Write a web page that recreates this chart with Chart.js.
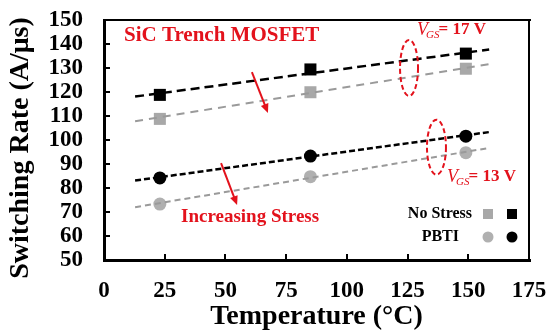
<!DOCTYPE html>
<html lang="en">
<head>
    <meta charset="UTF-8">
    <title>Switching Rate vs Temperature</title>
    <script src="https://cdn.jsdelivr.net/npm/chart.js"></script>
    <style>
        html, body { margin: 0; padding: 0; background: #fff; }
        #chartContainer { width: 547px; height: 333px; position: relative; }
    </style>
</head>
<body>

<div id="chartContainer">
    <canvas id="rateChart"></canvas>
</div>

<script>
    // Measured points (temperature in °C, switching rate in A/µs)
    const temps = [23, 85, 149];
    const rate17NoStress = [108.8, 119.9, 129.7];   // gray squares
    const rate17Pbti = [118.8, 129.4, 136.0];       // black squares
    const rate13NoStress = [73.3, 84.7, 94.7];      // gray circles
    const rate13Pbti = [84.2, 93.3, 101.6];         // black circles

    // Trend line end points
    const trendTemps = [12.8, 158.6];
    const trend17NoStress = [107.8, 131.6];
    const trend17Pbti = [118.1, 137.7];
    const trend13NoStress = [72.0, 96.7];
    const trend13Pbti = [83.1, 103.3];

    const xTicks = [0, 25, 50, 75, 100, 125, 150, 175];
    const yTicks = [50, 60, 70, 80, 90, 100, 110, 120, 130, 140, 150];

    const RED = '#e3121c';
    const GRAY = '#a8a8a8';
    const SERIF = '"Liberation Serif", "DejaVu Serif", serif';

    const toPoints = (xs, ys) => xs.map((x, i) => ({ x: x, y: ys[i] }));

    function trend(values, color, dash, width) {
        return {
            data: toPoints(trendTemps, values),
            showLine: true,
            borderColor: color,
            borderWidth: width,
            borderDash: dash,
            pointRadius: 0,
            fill: false
        };
    }

    function marks(values, color, style, radius) {
        return {
            data: toPoints(temps, values),
            showLine: false,
            pointStyle: style,
            pointRadius: radius,
            pointHoverRadius: radius,
            backgroundColor: color,
            borderColor: color,
            borderWidth: 0
        };
    }

    // keep the plot box fixed: no extra room for edge labels
    function noEdgePadding(s) {
        s.paddingLeft = 0;
        s.paddingRight = 0;
        s.paddingTop = 0;
        s.paddingBottom = 0;
    }

    // Plot frame with inward ticks
    const frame = {
        id: 'frame',
        afterDraw(chart) {
            const c = chart.ctx;
            const a = chart.chartArea;
            const xs = chart.scales.x, ys = chart.scales.y;
            const L = Math.round(a.left), R = Math.round(a.right);
            const T = Math.round(a.top), B = Math.round(a.bottom);
            c.save();
            c.globalAlpha = 1;
            c.globalCompositeOperation = 'source-over';
            c.fillStyle = 'rgb(0,0,0)';
            c.fillRect(L - 1, T - 1, 3, B - T + 3);       // left
            c.fillRect(L - 1, B - 1, R - L + 3, 3);       // bottom
            c.fillRect(L - 1, T - 1, R - L + 3, 2);       // top
            c.fillRect(R - 1, T - 1, 2, B - T + 3);       // right
            yTicks.slice(1, -1).forEach(v => {
                c.fillRect(L, Math.round(ys.getPixelForValue(v)) - 1, 6, 2);
            });
            xTicks.slice(1, -1).forEach(v => {
                c.fillRect(Math.round(xs.getPixelForValue(v)) - 1, B - 6, 2, 6);
            });
            c.restore();
        }
    };

    // Annotations and legend
    const decorations = {
        id: 'decorations',
        afterDraw(chart) {
            const ctx = chart.ctx;
            const xs = chart.scales.x, ys = chart.scales.y;
            const px = v => xs.getPixelForValue(v);
            const py = v => ys.getPixelForValue(v);

            ctx.save();

            // y axis title
            ctx.fillStyle = '#000';
            ctx.font = 'bold 28px ' + SERIF;
            ctx.textAlign = 'center';
            ctx.textBaseline = 'middle';
            ctx.save();
            ctx.translate(21, 148);
            ctx.rotate(-Math.PI / 2);
            ctx.fillText('Switching Rate (A/\u03bcs)', 0, 0);
            ctx.restore();

            // red labels
            ctx.fillStyle = RED;
            ctx.textAlign = 'left';
            ctx.font = 'bold 21px ' + SERIF;
            ctx.fillText('SiC Trench MOSFET', 124, 36);
            ctx.font = 'bold 19px ' + SERIF;
            ctx.fillText('Increasing Stress', 181, 217);

            function vgs(x, y, value) {
                ctx.font = 'italic 18px ' + SERIF;
                ctx.fillText('V', x, y);
                const w = ctx.measureText('V').width;
                ctx.font = 'italic 11px ' + SERIF;
                ctx.fillText('GS', x + w - 2, y + 5);
                const w2 = ctx.measureText('GS').width;
                ctx.font = 'bold 17px ' + SERIF;
                ctx.fillText('= ' + value + ' V', x + w + w2 - 3, y);
            }
            vgs(417, 30, 17);
            vgs(447, 177, 13);

            // dashed ellipses around the gate-voltage groups
            ctx.strokeStyle = RED;
            ctx.lineWidth = 2;
            ctx.setLineDash([5, 3]);
            ctx.beginPath();
            ctx.ellipse(px(125.6), py(130), 9, 28, 0, 0, Math.PI * 2);
            ctx.stroke();
            ctx.beginPath();
            ctx.ellipse(px(136.9), py(97), 9.5, 27.5, 0, 0, Math.PI * 2);
            ctx.stroke();
            ctx.setLineDash([]);

            // arrows
            function arrow(x1, y1, x2, y2) {
                const ax = px(x1), ay = py(y1), bx = px(x2), by = py(y2);
                const t = Math.atan2(by - ay, bx - ax);
                ctx.strokeStyle = RED;
                ctx.fillStyle = RED;
                ctx.lineWidth = 2;
                ctx.beginPath();
                ctx.moveTo(ax, ay);
                ctx.lineTo(bx - 5 * Math.cos(t), by - 5 * Math.sin(t));
                ctx.stroke();
                ctx.beginPath();
                ctx.moveTo(bx, by);
                ctx.lineTo(bx - 9 * Math.cos(t) + 4 * Math.sin(t), by - 9 * Math.sin(t) - 4 * Math.cos(t));
                ctx.lineTo(bx - 9 * Math.cos(t) - 4 * Math.sin(t), by - 9 * Math.sin(t) + 4 * Math.cos(t));
                ctx.closePath();
                ctx.fill();
            }
            arrow(60.9, 128.3, 67.5, 111.3);
            arrow(48.2, 90.4, 54.8, 72.9);

            // legend
            ctx.fillStyle = '#000';
            ctx.font = 'bold 16px ' + SERIF;
            ctx.textAlign = 'right';
            ctx.fillText('No Stress', 472, 214);
            ctx.fillText('PBTI', 459, 237);
            ctx.fillStyle = GRAY;
            ctx.fillRect(483, 209, 10, 10);
            ctx.fillStyle = '#000';
            ctx.fillRect(507, 209, 10, 10);
            ctx.fillStyle = '#b0b0b0';
            ctx.beginPath();
            ctx.arc(488, 237, 5.5, 0, Math.PI * 2);
            ctx.fill();
            ctx.fillStyle = '#000';
            ctx.beginPath();
            ctx.arc(512, 237, 5.5, 0, Math.PI * 2);
            ctx.fill();

            ctx.restore();
        }
    };

    new Chart(document.getElementById('rateChart'), {
        type: 'scatter',
        data: {
            datasets: [
                trend(trend17NoStress, '#9a9a9a', [8, 6], 2),
                trend(trend17Pbti, '#000', [9, 5], 2.5),
                trend(trend13NoStress, '#9a9a9a', [6, 4], 2),
                trend(trend13Pbti, '#000', [6, 3], 2.5),
                marks(rate17NoStress, GRAY, 'rect', 8.5),
                marks(rate17Pbti, '#000', 'rect', 8.5),
                marks(rate13NoStress, '#b0b0b0', 'circle', 6.5),
                marks(rate13Pbti, '#000', 'circle', 6.5)
            ]
        },
        options: {
            responsive: true,
            maintainAspectRatio: false,
            animation: false,
            layout: { padding: { left: 0, top: 20, right: 18, bottom: 0 } },
            plugins: {
                legend: { display: false },
                tooltip: { enabled: false }
            },
            scales: {
                x: {
                    type: 'linear',
                    min: 0,
                    max: 175,
                    afterFit: s => { s.height = 73; noEdgePadding(s); },
                    afterBuildTicks: s => { s.ticks = xTicks.map(v => ({ value: v })); },
                    grid: { display: false, drawTicks: false },
                    border: { display: true, color: '#000', width: 2 },
                    ticks: {
                        color: '#000',
                        autoSkip: false,
                        maxRotation: 0,
                        padding: 17,
                        font: { family: SERIF, size: 23, weight: 'bold' }
                    },
                    title: {
                        display: true,
                        text: 'Temperature (\u00b0C)',
                        color: '#000',
                        padding: { top: 0, bottom: 1 },
                        font: { family: SERIF, size: 28, weight: 'bold', lineHeight: 1.1 }
                    }
                },
                y: {
                    type: 'linear',
                    min: 50,
                    max: 150,
                    afterFit: s => { s.width = 104; noEdgePadding(s); },
                    afterBuildTicks: s => { s.ticks = yTicks.map(v => ({ value: v })); },
                    grid: { display: false, drawTicks: false },
                    border: { display: true, color: '#000', width: 2 },
                    ticks: {
                        color: '#000',
                        autoSkip: false,
                        padding: 21,
                        font: { family: SERIF, size: 23, weight: 'bold' }
                    }
                }
            }
        },
        plugins: [decorations, frame]
    });
</script>

</body>
</html>
